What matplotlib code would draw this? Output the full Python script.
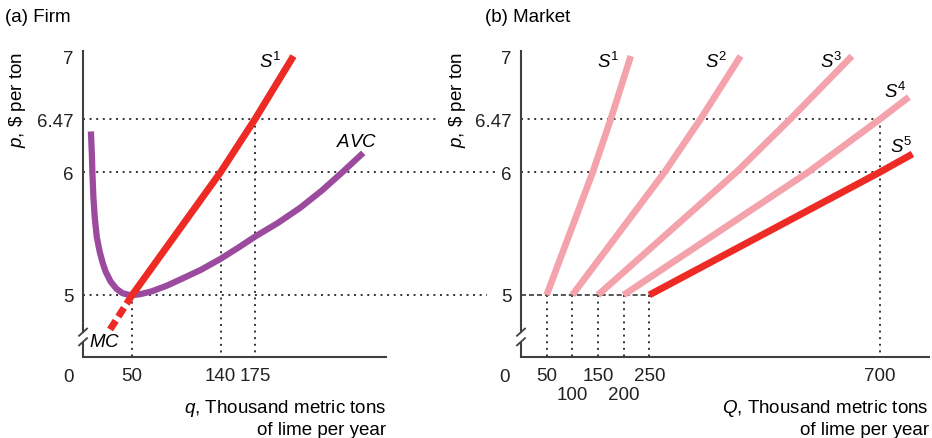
import numpy as np
import matplotlib.pyplot as plt

plt.rcParams['font.family'] = ['Liberation Sans', 'DejaVu Sans']
plt.rcParams['mathtext.fontset'] = 'custom'
plt.rcParams['mathtext.rm'] = 'Liberation Sans'
plt.rcParams['mathtext.it'] = 'Liberation Sans:italic'

# --- data ---
price_ticks = [5, 6, 6.47, 7]
price_labels = ['5', '6', '6.47', '7']

# firm supply (S1 = MC above minimum AVC)
firm_p = [5, 6, 6.47, 7]
firm_q = [50, 140, 175, 214]
# MC below the shutdown point (dashed)
mc_low_q = [50, 25]
mc_low_p = [5, 4.68]
# average variable cost
avc_q = [8, 9, 9.5, 10.5, 12, 14, 17, 20, 23, 28, 34, 40, 46, 50, 55, 60,
         70, 85, 100, 120, 139, 157, 175, 198, 221, 243, 264, 285]
avc_p = [6.36, 6.15, 6.0, 5.8, 5.62, 5.47, 5.35, 5.26, 5.19, 5.11, 5.05,
         5.015, 5.002, 5.0, 5.003, 5.01, 5.03, 5.075, 5.13, 5.205, 5.29,
         5.38, 5.475, 5.585, 5.71, 5.85, 6.0, 6.17]

firm_xticks = [50, 140, 175]

# market supply curves with 1..5 firms
s1_Q = [50, 140, 175, 214]
s1_P = [5, 6, 6.47, 7]
s2_Q = [100, 280, 350, 428]
s2_P = [5, 6, 6.47, 7]
s3_Q = [150, 420, 525, 645]
s3_P = [5, 6, 6.47, 7]
s4_Q = [200, 560, 700, 756]
s4_P = [5, 6, 6.47, 6.655]
s5_Q = [250, 700, 763]
s5_P = [5, 6, 6.16]

entry_Q = [50, 100, 150, 200, 250]
market_xticks = [50, 150, 250, 700]
market_xticks2 = [100, 200]

RED = '#ED2A24'
PINK = '#F4A2AB'
PURPLE = '#9C4A9E'
DOT = '#333333'
AXC = '#404040'
FS = 13.5

# the drawn price axis is not evenly spaced in the original drawing
scale_p = [3, 5, 6, 6.47, 7, 9]
scale_h = [-240, 0, 123, 176, 239, 479]


def fwd(p):
    return np.interp(p, scale_p, scale_h)


def inv(h):
    return np.interp(h, scale_h, scale_p)


YMIN, YMAX = 4.483, 7.042
dotted = dict(color=DOT, lw=1.4, ls=(0, (1, 2.4)), clip_on=False, zorder=1)

fig = plt.figure(figsize=(9.32, 4.39), dpi=100)
axL = fig.add_axes([0.0891, 0.1845, 0.3251, 0.6970])
axR = fig.add_axes([0.5590, 0.1845, 0.4378, 0.6970])
axL.set_xlim(0, 308.2)
axR.set_xlim(0, 795.3)


def style(ax, px_per_x):
    ax.set_yscale('function', functions=(fwd, inv))
    ax.set_ylim(YMIN, YMAX)
    for s in ['top', 'right']:
        ax.spines[s].set_visible(False)
    for s in ['left', 'bottom']:
        ax.spines[s].set_color(AXC)
        ax.spines[s].set_linewidth(1.5)
    # axis break on the price axis
    ax.spines['left'].set_bounds(4.69, YMAX)
    ax.plot([0, 0], [YMIN, 4.61], color=AXC, lw=1.5, clip_on=False,
            solid_capstyle='butt')
    dx = 4 / px_per_x
    for yb in (4.69, 4.61):
        ax.plot([-dx, dx], [yb - 0.03, yb + 0.03], color=AXC, lw=1.3,
                clip_on=False)
    ax.set_yticks(price_ticks)
    ax.set_yticklabels(price_labels)
    ax.yaxis.set_minor_locator(plt.NullLocator())
    ax.tick_params(which='both', length=0, labelsize=FS, colors='#222222')
    ax.tick_params(axis='y', pad=7)
    ax.tick_params(axis='x', pad=7)


style(axL, 0.983)
style(axR, 0.513)

# ---------------- (a) Firm ----------------
axL.plot([0, 361], [6.47, 6.47], **dotted)
axL.plot([0, 419], [6, 6], **dotted)
axL.plot([0, 411], [5, 5], **dotted)
axL.plot([50, 50], [5, YMIN], **dotted)
axL.plot([140, 140], [6, YMIN], **dotted)
axL.plot([175, 175], [6.47, YMIN], **dotted)

axL.plot(avc_q, avc_p, color=PURPLE, lw=4.5, solid_capstyle='butt',
         solid_joinstyle='round', zorder=3)
axL.plot(firm_q, firm_p, color=RED, lw=5, solid_capstyle='butt', zorder=4)
axL.plot(mc_low_q, mc_low_p, color=RED, lw=5, ls=(0, (1.5, 0.7)),
         dash_capstyle='butt', zorder=4)

axL.set_xticks(firm_xticks)
axL.set_xticklabels([str(v) for v in firm_xticks])

axL.text(202, 6.96, '$S^1$', fontsize=FS, ha='right', va='center')
axL.text(278, 6.27, '$AVC$', fontsize=FS, ha='center', va='center')
axL.text(22, 4.61, '$MC$', fontsize=FS, ha='center', va='center')

# ---------------- (b) Market ----------------
axR.plot([0, 700], [6.47, 6.47], **dotted)
axR.plot([0, 700], [6, 6], **dotted)
axR.plot([700, 700], [6.47, YMIN], **dotted)
for q in entry_Q:
    axR.plot([q, q], [5, YMIN], **dotted)
axR.plot([0, 250], [5, 5], color='#555555', lw=1.4, ls=(0, (2.6, 1.5)),
         zorder=2)

for Q, P in [(s1_Q, s1_P), (s2_Q, s2_P), (s3_Q, s3_P), (s4_Q, s4_P)]:
    axR.plot(Q, P, color=PINK, lw=4.8, solid_capstyle='butt', zorder=3)
axR.plot(s5_Q, s5_P, color=RED, lw=5, solid_capstyle='butt', zorder=4)

axR.set_xticks(market_xticks)
axR.set_xticklabels([str(v) for v in market_xticks])
axR.set_xticks(market_xticks2, minor=True)
axR.set_xticklabels([str(v) for v in market_xticks2], minor=True)
axR.tick_params(axis='x', which='minor', pad=21)

axR.text(193, 6.955, '$S^1$', fontsize=FS, ha='right', va='center')
axR.text(403, 6.955, '$S^2$', fontsize=FS, ha='right', va='center')
axR.text(626, 6.955, '$S^3$', fontsize=FS, ha='right', va='center')
axR.text(752, 6.705, '$S^4$', fontsize=FS, ha='right', va='center')
axR.text(764, 6.23, '$S^5$', fontsize=FS, ha='right', va='center')

# ---------------- shared text ----------------
W, H = 932, 439
fig.text(5 / W, 1 - 17 / H, '(a) Firm', fontsize=FS, va='center')
fig.text(485 / W, 1 - 17 / H, '(b) Market', fontsize=FS, va='center')
fig.text(68 / W, 1 - 378 / H, '0', fontsize=FS, ha='center', va='center',
         color='#222222')
fig.text(505 / W, 1 - 378 / H, '0', fontsize=FS, ha='center', va='center',
         color='#222222')
fig.text(18 / W, 1 - 52 / H, '$p$, \\$ per ton', fontsize=FS, rotation=90,
         ha='center', va='top')
fig.text(458 / W, 1 - 52 / H, '$p$, \\$ per ton', fontsize=FS, rotation=90,
         ha='center', va='top')
fig.text(386 / W, 1 - 418.5 / H, '$q$, Thousand metric tons\nof lime per year',
         fontsize=FS, ha='right', va='center', multialignment='right',
         linespacing=1.2)
fig.text(929 / W, 1 - 418.5 / H, '$Q$, Thousand metric tons\nof lime per year',
         fontsize=FS, ha='right', va='center', multialignment='right',
         linespacing=1.2)

fig.savefig('out.png', dpi=100)
